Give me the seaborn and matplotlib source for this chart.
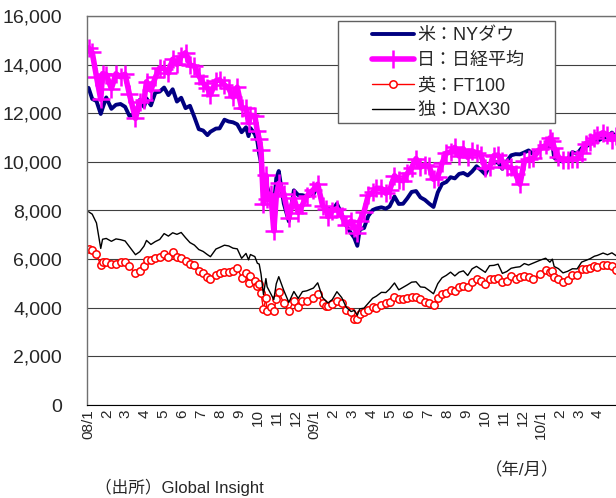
import pandas as pd
import seaborn as sns
import matplotlib.pyplot as plt
from matplotlib.ticker import MultipleLocator, FuncFormatter
from matplotlib.patches import Rectangle

# --- Data (weekly readings, 2008/1 - 2010/4) ---
dates = [
    "2008-01-02", "2008-01-08", "2008-01-15", "2008-01-22", "2008-01-25", "2008-01-31",
    "2008-02-08", "2008-02-15", "2008-02-22", "2008-02-29",
    "2008-03-07", "2008-03-17", "2008-03-24", "2008-03-31",
    "2008-04-04", "2008-04-11", "2008-04-18", "2008-04-25",
    "2008-05-02", "2008-05-09", "2008-05-16", "2008-05-23", "2008-05-30",
    "2008-06-06", "2008-06-13", "2008-06-20", "2008-06-27",
    "2008-07-04", "2008-07-11", "2008-07-16", "2008-07-25", "2008-07-31",
    "2008-08-08", "2008-08-15", "2008-08-22", "2008-08-29",
    "2008-09-05", "2008-09-12", "2008-09-16", "2008-09-19", "2008-09-26", "2008-09-30",
    "2008-10-03", "2008-10-06", "2008-10-10", "2008-10-14", "2008-10-16", "2008-10-22", "2008-10-27", "2008-10-31",
    "2008-11-04", "2008-11-12", "2008-11-20", "2008-11-28",
    "2008-12-05", "2008-12-12", "2008-12-19", "2008-12-30",
    "2009-01-06", "2009-01-14", "2009-01-20", "2009-01-23", "2009-01-30",
    "2009-02-06", "2009-02-13", "2009-02-20", "2009-02-27",
    "2009-03-04", "2009-03-09", "2009-03-13", "2009-03-20", "2009-03-27",
    "2009-04-03", "2009-04-09", "2009-04-17", "2009-04-24", "2009-04-30",
    "2009-05-08", "2009-05-15", "2009-05-22", "2009-05-29",
    "2009-06-05", "2009-06-12", "2009-06-19", "2009-06-26",
    "2009-07-03", "2009-07-10", "2009-07-17", "2009-07-24", "2009-07-31",
    "2009-08-07", "2009-08-14", "2009-08-21", "2009-08-28",
    "2009-09-04", "2009-09-11", "2009-09-18", "2009-09-25",
    "2009-10-02", "2009-10-09", "2009-10-16", "2009-10-23", "2009-10-30",
    "2009-11-06", "2009-11-13", "2009-11-20", "2009-11-27",
    "2009-12-04", "2009-12-11", "2009-12-18", "2009-12-30",
    "2010-01-08", "2010-01-15", "2010-01-19", "2010-01-22", "2010-01-29",
    "2010-02-05", "2010-02-12", "2010-02-19", "2010-02-26",
    "2010-03-05", "2010-03-12", "2010-03-19", "2010-03-26", "2010-03-31",
    "2010-04-09", "2010-04-16", "2010-04-23", "2010-04-30",
]

ny_dow = [
    13044, 12589, 12501, 11971, 12207, 12650,
    12182, 12348, 12381, 12266,
    11894, 11972, 12548, 12263,
    12610, 12325, 12850, 12891,
    13058, 12745, 12986, 12480, 12638,
    12210, 12307, 11843, 11346,
    11289, 11100, 11239, 11370, 11378,
    11734, 11659, 11628, 11544,
    11220, 11422, 11059, 11388, 11143, 10850,
    10325, 9955, 8451, 9311, 8979, 8519, 8175, 9325,
    9625, 8283, 7552, 8829,
    8635, 8629, 8579, 8668,
    9015, 8200, 7949, 8077, 8001,
    8280, 7850, 7366, 7063,
    6876, 6547, 7224, 7279, 7776,
    8018, 8083, 8131, 8076, 8168,
    8575, 8268, 8277, 8500,
    8764, 8799, 8539, 8438,
    8280, 8146, 8743, 9093, 9172,
    9370, 9321, 9505, 9544,
    9441, 9605, 9820, 9665,
    9487, 9865, 9995, 9972, 9713,
    10023, 10270, 10318, 10310,
    10388, 10471, 10329, 10548,
    10618, 10610, 10725, 10172, 10067,
    10012, 10099, 10402, 10325,
    10567, 10625, 10742, 10851, 10857,
    10997, 11019, 11204, 11009,
]

nikkei = [
    14691, 14500, 13505, 12573, 13630, 13592,
    13017, 13622, 13500, 13604,
    12783, 11787, 12480, 12526,
    13294, 12945, 13477, 13863,
    13837, 13655, 14220, 14012, 14338,
    14489, 13975, 13943, 13544,
    13237, 13040, 12761, 13335, 13376,
    13168, 13019, 12666, 13072,
    12212, 12215, 11609, 11920, 11893, 11259,
    10938, 10473, 8276, 9447, 8458, 8674, 7162, 8576,
    9114, 8695, 7703, 8512,
    7917, 8235, 8588, 8859,
    9080, 8200, 8065, 7745, 7994,
    8076, 7779, 7416, 7568,
    7290, 7086, 7569, 7945, 8626,
    8749, 8917, 8907, 8707, 8828,
    9433, 9265, 9225, 9522,
    9768, 10135, 9786, 9877,
    9816, 9287, 9395, 9944, 10356,
    10412, 10597, 10238, 10534,
    10187, 10444, 10370, 10265,
    9731, 9800, 10257, 10282, 10034,
    9789, 9770, 9497, 9081,
    10022, 10107, 10142, 10546,
    10681, 10982, 10855, 10590, 10198,
    10057, 10092, 10123, 10126,
    10368, 10751, 10824, 10996, 11089,
    11204, 11102, 10914, 11057,
]

ft100 = [
    6416, 6365, 6206, 5740, 5869, 5880,
    5784, 5787, 5888, 5884,
    5699, 5414, 5495, 5702,
    5947, 5966, 6056, 6091,
    6215, 6102, 6304, 6087, 6053,
    5906, 5803, 5756, 5530,
    5413, 5261, 5171, 5352, 5412,
    5489, 5450, 5506, 5636,
    5240, 5416, 5025, 5311, 5088, 4902,
    4980, 4589, 3932, 4394, 3861, 4041, 3852, 4377,
    4639, 4183, 3875, 4288,
    4049, 4281, 4286, 4392,
    4579, 4181, 4091, 4052, 4150,
    4292, 4189, 3890, 3830,
    3546, 3542, 3754, 3842, 3898,
    4031, 3984, 4093, 4183, 4244,
    4460, 4349, 4345, 4418,
    4438, 4442, 4346, 4241,
    4189, 4127, 4390, 4576, 4608,
    4716, 4699, 4851, 4908,
    4852, 5041, 5190, 5081,
    4989, 5162, 5190, 5242, 5044,
    5105, 5296, 5194, 5245,
    5322, 5261, 5196, 5397,
    5534, 5455, 5513, 5260, 5189,
    5060, 5142, 5358, 5355,
    5600, 5600, 5650, 5703, 5680,
    5770, 5744, 5723, 5553,
]

dax30 = [
    7949, 7850, 7487, 6439, 6817, 6851,
    6733, 6832, 6800, 6748,
    6514, 6182, 6304, 6535,
    6769, 6604, 6722, 6810,
    7050, 6947, 7084, 7020, 7096,
    6880, 6680, 6578, 6394,
    6316, 6185, 6100, 6415, 6480,
    6573, 6542, 6451, 6422,
    6033, 6235, 5970, 6189, 6104, 5831,
    5797, 5387, 4544, 5199, 4861, 4571, 4335, 4988,
    5278, 4710, 4221, 4669,
    4381, 4664, 4696, 4810,
    5026, 4422, 4260, 4199, 4338,
    4660, 4421, 4014, 3843,
    3890, 3693, 3953, 3985, 4188,
    4390, 4478, 4634, 4625, 4770,
    5019, 4737, 4836, 4940,
    5052, 5069, 4856, 4838,
    4709, 4575, 4991, 5233, 5332,
    5464, 5310, 5462, 5517,
    5327, 5601, 5703, 5581,
    5457, 5731, 5743, 5794, 5414,
    5489, 5624, 5663, 5686,
    5817, 5757, 5831, 5957,
    6037, 5875, 6000, 5696, 5608,
    5434, 5500, 5604, 5598,
    5877, 5945, 6017, 6120, 6154,
    6250, 6180, 6259, 6136,
]

series_labels = ["米：NYダウ", "日：日経平均", "英：FT100", "独：DAX30"]
month_labels = ["08/1"] + [str(m) for m in range(2, 13)] + \
               ["09/1"] + [str(m) for m in range(2, 13)] + \
               ["10/1", "2", "3", "4"]

sns.set_style("white")
plt.rcParams['font.family'] = ['Liberation Sans', 'Noto Sans CJK JP', 'DejaVu Sans']

# month index: 0 = start of 2008/1
d = pd.to_datetime(dates)
df = pd.DataFrame({
    "pos": (d.year - 2008) * 12 + (d.month - 1) + (d.day - 1) / d.days_in_month,
    "dow": ny_dow,
    "nikkei": nikkei,
    "ft": ft100,
    "dax": dax30,
})

fig = plt.figure(figsize=(6.16, 4.98), dpi=100)
ax = fig.add_axes([87 / 616, 1 - 405 / 498, 1 - 87 / 616, (405 - 16) / 498])

# --- Lines ---
sns.lineplot(data=df, x="pos", y="dow", ax=ax, color="#000080", lw=2.8,
             label=series_labels[0])
sns.lineplot(data=df, x="pos", y="nikkei", ax=ax, color="#FF00FF", lw=4,
             marker="+", markersize=13, mew=1.8, mec="#FF00FF",
             label=series_labels[1])
sns.lineplot(data=df, x="pos", y="ft", ax=ax, color="#FF0000", lw=1,
             marker="o", markersize=5.3, mew=1.1, mec="#FF0000", mfc="white",
             label=series_labels[2])
sns.lineplot(data=df, x="pos", y="dax", ax=ax, color="black", lw=1,
             label=series_labels[3])

# --- Axes ---
ax.set_xlim(-0.05, 27.95)
ax.set_ylim(0, 16000)
ax.set_xlabel("")
ax.set_ylabel("")

ax.yaxis.set_major_locator(MultipleLocator(2000))
ax.yaxis.set_major_formatter(FuncFormatter(lambda v, p: f"{v:,.0f}"))
ax.tick_params(axis="y", length=0, pad=18, labelsize=14)

ax.set_xticks(range(len(month_labels)))
ax.set_xticklabels(month_labels, rotation=90, fontsize=11)
ax.xaxis.set_minor_locator(MultipleLocator(1 / 21))
ax.tick_params(axis="x", which="both", direction="in", length=4.5,
               width=0.5, color="black", pad=3)

ax.yaxis.grid(True, color="#404040", lw=0.8)
ax.xaxis.grid(False)
ax.set_axisbelow(True)

for side in ["top", "left"]:
    ax.spines[side].set_color("#707070")
    ax.spines[side].set_linewidth(1)
ax.spines["right"].set_visible(False)
ax.spines["bottom"].set_color("black")

# --- Legend ---
frame = Rectangle((338 / 616, 1 - 123 / 498), (555 - 338) / 616, (123 - 21) / 498,
                  transform=fig.transFigure, facecolor="white", edgecolor="#606060",
                  lw=1, zorder=4.5, clip_on=False)
ax.add_patch(frame)
handles, labels = ax.get_legend_handles_labels()
leg = ax.legend(handles, labels, loc="upper left",
                bbox_to_anchor=(372 / 616, 1 - 27 / 498), bbox_transform=fig.transFigure,
                frameon=False, fontsize=13, handlelength=2.35, handletextpad=0.15,
                labelspacing=0.45, borderpad=0, borderaxespad=0)
leg.set_zorder(5)

# --- Notes ---
fig.text(95 / 616, 1 - 487 / 498, "（出所）Global Insight", fontsize=12,
         ha="left", va="center")
fig.text(485 / 616, 1 - 470 / 498, "（年/月）", fontsize=12.5, ha="left", va="center")

plt.savefig("out.png", dpi=100)
